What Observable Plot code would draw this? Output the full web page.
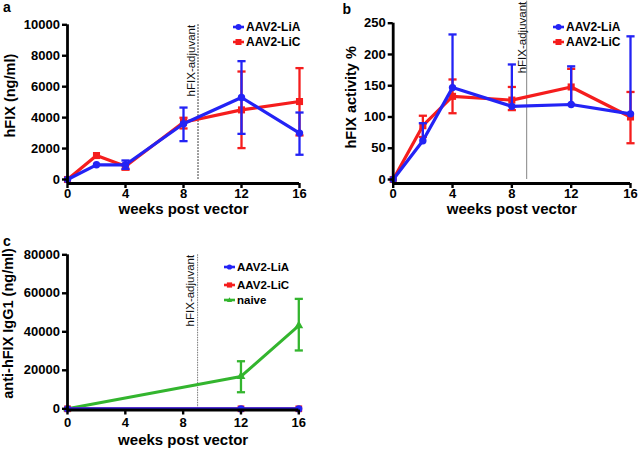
<!DOCTYPE html>
<html><head><meta charset="utf-8">
<script src="https://cdn.jsdelivr.net/npm/d3@7"></script>
<script src="https://cdn.jsdelivr.net/npm/@observablehq/plot@0.6"></script>
<style>
body{margin:0;background:#fff;}
#wrap{position:relative;width:638px;height:449px;overflow:hidden;background:#fff;font-family:"Liberation Sans",Arial,sans-serif;}
.panel{position:absolute;}
.letter{position:absolute;font-weight:bold;font-size:14px;line-height:14px;}
.legend{position:absolute;font-weight:bold;}
.legend .row{position:absolute;left:0;display:flex;align-items:center;white-space:nowrap;}
.legend svg{display:block;margin-right:2px;}
</style></head>
<body><div id="wrap"></div>
<script>
// ---------- data ----------
const weeks = [0, 2, 4, 8, 12, 16];
const weeksC = [0, 12, 16];
const xTicks = [0, 4, 8, 12, 16];
const adjuvantWeek = 9;
const adjLabel = "hFIX-adjuvant";
const xTitle = "weeks post vector";
const seriesNames = ["AAV2-LiA", "AAV2-LiC", "naive"];

// panel a: hFIX (ng/ml)
const yTicksA = [0, 2000, 4000, 6000, 8000, 10000];
const aLiA = [0, 950, 950, 3600, 5300, 3000];
const aLiA_lo = [null, null, 690, 2480, 2950, 1600];
const aLiA_hi = [null, null, 1230, 4650, 7650, 4330];
const aLiC = [0, 1550, 860, 3700, 4500, 5040];
const aLiC_lo = [null, null, 630, 3300, 2030, 2850];
const aLiC_hi = [null, null, 1000, 3990, 6980, 7200];

// panel b: hFIX activity %
const yTicksB = [0, 50, 100, 150, 200, 250];
const bLiA = [0, 62, 147, 117, 120, 105];
const bLiA_lo = [null, null, null, null, null, null];
const bLiA_hi = [null, 90, 232, 184, 181, 229];
const bLiC = [0, 86, 133, 127, 148, 100];
const bLiC_lo = [null, 68, 106, 111, 120, 58];
const bLiC_hi = [null, 102, 160, 148, 177, 140];

// panel c: anti-hFIX IgG1 (ng/ml)
const yTicksC = [0, 20000, 40000, 60000, 80000];
const cLiA = [0, 0, 0];
const cLiC = [0, 0, 0];
const cNaive = [0, 16800, 43200];
const cNaive_lo = [null, 8600, 30300];
const cNaive_hi = [null, 24700, 57100];

// ---------- styling ----------
const BLUE = "#2323f5", RED = "#f51d1d", GREEN = "#33b52e";
const FONT = "Liberation Sans, Arial, Helvetica, sans-serif";
const capSymbol = {draw(ctx, size) { const w = Math.sqrt(size) / 2; ctx.moveTo(-w, 0); ctx.lineTo(w, 0); }};

function rows(ws, vals, lo, hi) {
  return ws.map((w, i) => ({week: w, value: vals[i], lo: lo ? lo[i] : null, hi: hi ? hi[i] : null}));
}

function seriesMarks(data, color, symbol, r, lw) {
  const eb = data.filter(d => d.hi != null);
  const ebLo = eb.filter(d => d.lo != null);
  return [
    Plot.ruleX(eb, {x: "week", y1: d => d.lo ?? d.value, y2: "hi", stroke: color, strokeWidth: 2.3}),
    Plot.dot(eb, {x: "week", y: "hi", symbol: capSymbol, r: 4.6, stroke: color, strokeWidth: 2.3, fill: "none"}),
    Plot.dot(ebLo, {x: "week", y: "lo", symbol: capSymbol, r: 4.6, stroke: color, strokeWidth: 2.3, fill: "none"}),
    Plot.line(data, {x: "week", y: "value", stroke: color, strokeWidth: lw}),
    Plot.dot(data, {x: "week", y: "value", symbol, r, fill: color, stroke: "none"})
  ];
}

function makePanel(c) {
  const adj = [{week: adjuvantWeek, label: adjLabel, top: c.yDomain[1], bottom: 0}];
  return Plot.plot({
    width: c.width, height: c.height,
    marginLeft: c.ml, marginRight: c.mr, marginTop: c.mt, marginBottom: c.mb,
    insetBottom: c.insetB,
    x: {domain: [0, 16]},
    y: {domain: c.yDomain},
    style: {fontFamily: FONT, fontSize: "13px", fontWeight: "bold", background: "transparent", overflow: "visible", color: "#000"},
    marks: [
      Plot.ruleX(adj, {x: "week", y1: "top", y2: "bottom", stroke: c.adjStroke, strokeWidth: c.adjWidth, strokeDasharray: c.adjDash, insetTop: c.adjInsetTop}),
      Plot.text(adj, {x: "week", y: "top", text: "label", rotate: -90, textAnchor: "end", lineAnchor: "middle", dx: c.adjDx, dy: c.adjDy, fontSize: 11.5, fontWeight: "normal", fill: "#111"}),
      ...c.series.flatMap(s => seriesMarks(s.data, s.color, s.symbol, s.r, s.lw)),
      Plot.axisY({ticks: c.yTicks, tickSize: 5, tickPadding: 2.5, strokeWidth: 2.4, fontSize: 13, fontWeight: "bold", label: null, tickFormat: d => String(d)}),
      Plot.axisX({ticks: xTicks, tickSize: 5, tickPadding: c.xPad, strokeWidth: 2.4, fontSize: 13, fontWeight: "bold", label: null}),
      Plot.ruleX([0], {stroke: "#000", strokeWidth: 2.8}),
      Plot.ruleY([0], {dy: c.insetB, stroke: "#000", strokeWidth: 2.8}),
      Plot.text([xTitle], {text: d => d, frameAnchor: "bottom", textAnchor: "middle", lineAnchor: "middle", dy: c.xTitleDy, fontSize: 15, fontWeight: "bold"}),
      Plot.text([c.yTitle], {text: d => d, frameAnchor: "left", textAnchor: "middle", lineAnchor: "middle", rotate: -90, dx: c.yTitleDx, dy: c.yTitleDy, fontSize: 14.5, fontWeight: "bold"})
    ]
  });
}

const wrap = document.getElementById("wrap");
function place(node, left, top) {
  node.classList.add("panel");
  node.style.left = left + "px";
  node.style.top = top + "px";
  wrap.appendChild(node);
}
function letter(t, left, top) {
  const d = document.createElement("div");
  d.className = "letter"; d.textContent = t;
  d.style.left = left + "px"; d.style.top = top + "px";
  wrap.appendChild(d);
}
function legend(left, entries, fontSize, r) {
  const box = document.createElement("div");
  box.className = "legend";
  box.style.left = left + "px"; box.style.top = "0px";
  box.style.fontSize = fontSize + "px";
  for (const e of entries) {
    const row = document.createElement("div");
    row.className = "row";
    row.style.top = (e.cy - 8) + "px"; row.style.height = "16px";
    let mk;
    if (e.symbol === "circle") mk = `<circle cx="5.5" cy="5" r="${r}" fill="${e.color}"/>`;
    else if (e.symbol === "square") mk = `<rect x="${5.5 - r}" y="${5 - r}" width="${2 * r}" height="${2 * r}" fill="${e.color}"/>`;
    else mk = `<path d="M5.5,${5 - r * 1.1}L${5.5 + r},${5 + r * 0.8}L${5.5 - r},${5 + r * 0.8}Z" fill="${e.color}"/>`;
    row.innerHTML = `<svg width="11" height="10"><line x1="0" x2="11" y1="5" y2="5" stroke="${e.color}" stroke-width="2.6"/>${mk}</svg><span>${e.name}</span>`;
    box.appendChild(row);
  }
  wrap.appendChild(box);
}

// ---------- panel a ----------
place(makePanel({
  width: 320, height: 220, ml: 67, mr: 21, mt: 24.3, mb: 37, insetB: 4,
  yDomain: [0, 10000], yTicks: yTicksA, yTitle: "hFIX (ng/ml)",
  yTitleDx: -57, yTitleDy: -8.5, xTitleDy: 26, xPad: 0.5,
  adjStroke: "#000", adjWidth: 1, adjDash: "1.5,1.5", adjInsetTop: 0, adjDx: -7, adjDy: 0,
  series: [
    {data: rows(weeks, aLiC, aLiC_lo, aLiC_hi), color: RED, symbol: "square", r: 4, lw: 3.2},
    {data: rows(weeks, aLiA, aLiA_lo, aLiA_hi), color: BLUE, symbol: "circle", r: 3.7, lw: 3.2}
  ]
}), 0, 0);

// ---------- panel b ----------
place(makePanel({
  width: 318, height: 220, ml: 72.7, mr: 8, mt: 22.7, mb: 37, insetB: 4,
  yDomain: [0, 250], yTicks: yTicksB, yTitle: "hFIX activity %",
  yTitleDx: -42, yTitleDy: -6, xTitleDy: 26, xPad: 0.5,
  adjStroke: "#777", adjWidth: 0.9, adjDash: null, adjInsetTop: -22, adjDx: -4.5, adjDy: -21.5,
  series: [
    {data: rows(weeks, bLiC, bLiC_lo, bLiC_hi), color: RED, symbol: "square", r: 4, lw: 3.2},
    {data: rows(weeks, bLiA, bLiA_lo, bLiA_hi), color: BLUE, symbol: "circle", r: 3.7, lw: 3.2}
  ]
}), 320, 0);

// ---------- panel c ----------
place(makePanel({
  width: 320, height: 229, ml: 67, mr: 21.7, mt: 34.3, mb: 39.5, insetB: 1.2,
  yDomain: [0, 80000], yTicks: yTicksC, yTitle: "anti-hFIX IgG1 (ng/ml)",
  yTitleDx: -59, yTitleDy: -9, xTitleDy: 30.5, xPad: 2.5,
  adjStroke: "#777", adjWidth: 1, adjDash: "1.5,1", adjInsetTop: 0, adjDx: -7.5, adjDy: 0,
  series: [
    {data: rows(weeksC, cNaive, cNaive_lo, cNaive_hi), color: GREEN, symbol: "triangle", r: 3.3, lw: 3},
    {data: rows(weeksC, cLiC), color: RED, symbol: "square", r: 3.8, lw: 3},
    {data: rows(weeksC, cLiA), color: BLUE, symbol: "circle", r: 3.6, lw: 3}
  ]
}), 0, 220);

// ---------- legends & letters ----------
legend(233, [
  {name: seriesNames[0], color: BLUE, symbol: "circle", cy: 27},
  {name: seriesNames[1], color: RED, symbol: "square", cy: 42}
], 12, 3);
legend(553, [
  {name: seriesNames[0], color: BLUE, symbol: "circle", cy: 26.7},
  {name: seriesNames[1], color: RED, symbol: "square", cy: 41.7}
], 12, 3);
legend(224, [
  {name: seriesNames[0], color: BLUE, symbol: "circle", cy: 266.7},
  {name: seriesNames[1], color: RED, symbol: "square", cy: 285},
  {name: seriesNames[2], color: GREEN, symbol: "triangle", cy: 300}
], 11.5, 2.6);

letter("a", 3, 0);
letter("b", 342.5, 1.5);
letter("c", 3, 234);
</script>
</body></html>
